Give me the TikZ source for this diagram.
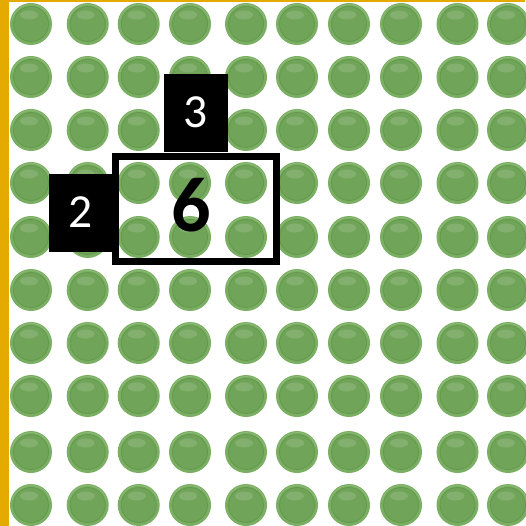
\documentclass[tikz,border=0pt]{standalone}
\usepackage{fontspec}
\setmainfont{Carlito}
\definecolor{frameyellow}{RGB}{228,170,0}
\definecolor{beadouter}{RGB}{122,174,98}
\definecolor{beadinner}{RGB}{112,164,88}
\definecolor{beadrim}{RGB}{100,152,76}
\definecolor{beadlight}{RGB}{150,196,128}
\tikzset{
  numbox/.style={fill=black, text=white, inner sep=0pt, font=\fontsize{47.5}{50}\selectfont,
    text height=30pt, text depth=0pt},
  sixlabel/.style={text=black, inner sep=0pt, font=\fontsize{78}{80}\selectfont\bfseries,
    text height=49pt, text depth=0pt},
  groupframe/.style={draw=black, line width=7pt},
}
\begin{document}
\begin{tikzpicture}[x=1pt,y=-1pt]
\useasboundingbox (0,0) rectangle (525,526);
\fill[white] (0,0) rectangle (525,526);
% frame
\fill[frameyellow] (0,0) rectangle (8.5,526);
\fill[frameyellow] (0,0) rectangle (525,2.5);
% beads
\foreach \cx in {31,87.7,138.7,190,246,297,349,401,457.5,508}{
  \foreach \cy in {24,77,130,183,237,290,343,396,452,505}{
    \fill[beadouter] (\cx,\cy) circle (21);
    \fill[beadinner] (\cx,\cy) circle (17.5);
    \draw[beadrim, line width=0.8pt] (\cx,\cy) circle (17.5);
    \draw[beadlight, line width=0.8pt, opacity=0.6] (\cx,\cy) ++(-15:19.5) arc (-15:-165:19.5);
    \fill[white, opacity=0.14] (\cx-2,\cy-9) ellipse (9 and 4.5);
  }
}
% group frame
\draw[groupframe] (115.5,156.5) rectangle (276,261.5);
% boxes
\node[numbox, minimum width=64pt, minimum height=78pt] (three) at (196,113) {3};
\node[numbox, minimum width=63pt, minimum height=78pt] (two) at (80.5,213) {2};
\node[sixlabel] (six) at (191.5,207.5) {6};
\end{tikzpicture}
\end{document}
